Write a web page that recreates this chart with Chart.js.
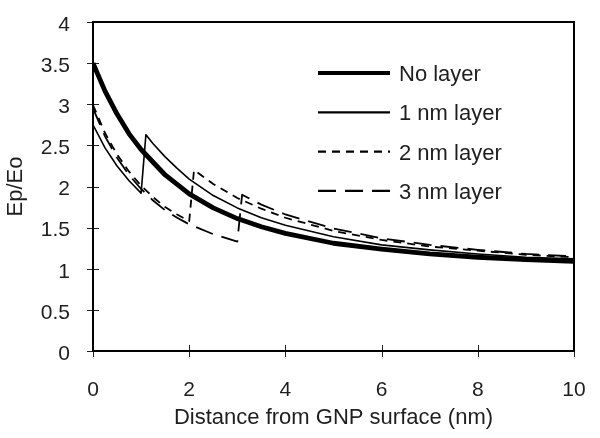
<!DOCTYPE html>
<html>
<head>
<meta charset="utf-8">
<script src="https://cdn.jsdelivr.net/npm/chart.js@4.4.1/dist/chart.umd.min.js"></script>
<style>
    html, body { margin: 0; padding: 0; background: #fff; }
    #wrap { width: 600px; height: 438px; }
</style>
</head>
<body>
<div id="wrap"><canvas id="myChart" width="600" height="438"></canvas></div>
<script>
// values
var seriesNames = ["No layer", "1 nm layer", "2 nm layer", "3 nm layer"];

var noLayerX = [0, 0.25, 0.5, 0.75, 1, 1.5, 2, 2.5, 3, 3.5, 4, 5, 6, 7, 8, 9, 10];
var noLayerY = [3.5, 3.16, 2.88, 2.64, 2.45, 2.14, 1.91, 1.74, 1.61, 1.51, 1.43, 1.31, 1.24, 1.18, 1.14, 1.11, 1.09];

var oneNmX = [0, 0.25, 0.5, 0.75, 1, 1.1, 1.25, 1.5, 1.75, 2, 2.5, 3, 3.5, 4, 5, 6, 7, 8, 9, 10];
var oneNmY = [2.75, 2.47, 2.25, 2.07, 1.92, 2.63, 2.52, 2.36, 2.22, 2.09, 1.89, 1.74, 1.62, 1.53, 1.39, 1.29, 1.23, 1.18, 1.14, 1.12];

var twoNmX = [0, 0.25, 0.5, 0.75, 1, 1.25, 1.5, 1.75, 2, 2.1, 2.5, 3, 3.5, 4, 5, 6, 7, 8, 9, 10];
var twoNmY = [2.99, 2.65, 2.39, 2.18, 2.01, 1.87, 1.75, 1.66, 1.58, 2.2, 2.03, 1.86, 1.73, 1.62, 1.46, 1.35, 1.27, 1.22, 1.17, 1.14];

var threeNmX = [0, 0.25, 0.5, 0.75, 1, 1.25, 1.5, 1.75, 2, 2.5, 3, 3.1, 3.5, 4, 5, 6, 7, 8, 9, 10];
var threeNmY = [2.95, 2.61, 2.35, 2.14, 1.97, 1.83, 1.71, 1.62, 1.54, 1.42, 1.33, 1.9, 1.78, 1.66, 1.49, 1.37, 1.29, 1.23, 1.18, 1.15];

var xTicks = [0, 2, 4, 6, 8, 10];
var yTicks = [0, 0.5, 1, 1.5, 2, 2.5, 3, 3.5, 4];

var textColor = "#1e1e1e";
var fontFamily = "'Liberation Sans', Arial, sans-serif";

function toPoints(xs, ys) {
    return xs.map(function (x, i) {
        return { x: x, y: ys[i] };
    });
}

function lineSet(label, xs, ys, width, dash) {
    return {
        label: label,
        data: toPoints(xs, ys),
        showLine: true,
        borderColor: "#000",
        backgroundColor: "#000",
        borderWidth: width,
        borderDash: dash,
        borderJoinStyle: "round",
        pointRadius: 0,
        tension: 0,
        fill: false,
    };
}

// plot box + excel style cross ticks
var framePlugin = {
    id: "frame",
    beforeDatasetsDraw: function (chart) {
        var ctx = chart.ctx;
        var a = chart.chartArea;
        var xs = chart.scales.x;
        var ys = chart.scales.y;
        ctx.save();
        ctx.strokeStyle = "#222";
        ctx.lineWidth = 1;
        xTicks.forEach(function (v) {
            var px = Math.round(xs.getPixelForValue(v)) + 0.5;
            ctx.beginPath();
            ctx.moveTo(px, a.bottom - 6);
            ctx.lineTo(px, a.bottom + 6);
            ctx.stroke();
        });
        yTicks.forEach(function (v) {
            var py = Math.round(ys.getPixelForValue(v)) + 0.5;
            ctx.beginPath();
            ctx.moveTo(a.left - 6, py);
            ctx.lineTo(a.left + 6, py);
            ctx.stroke();
        });
        ctx.strokeStyle = "#000";
        ctx.lineWidth = 2;
        ctx.strokeRect(a.left, a.top, a.right - a.left, a.bottom - a.top);
        ctx.restore();
    },
};

// legend with line samples, inside the plot
var lineLegend = {
    id: "lineLegend",
    afterDatasetsDraw: function (chart) {
        var ctx = chart.ctx;
        var a = chart.chartArea;
        var x0 = a.left + 225;
        ctx.save();
        ctx.font = "22px " + fontFamily;
        ctx.fillStyle = textColor;
        ctx.textBaseline = "middle";
        chart.data.datasets.forEach(function (ds, i) {
            var y = a.top + 51 + i * 39.3;
            ctx.beginPath();
            ctx.strokeStyle = "#000";
            ctx.lineWidth = i === 0 ? 4 : 2.2;
            ctx.setLineDash(ds.borderDash || []);
            ctx.moveTo(x0, y);
            ctx.lineTo(x0 + 72, y);
            ctx.stroke();
            ctx.setLineDash([]);
            ctx.fillText(ds.label, x0 + 81, y + 2);
        });
        ctx.restore();
    },
};

function drawChart() {
    var ctx = document.getElementById("myChart").getContext("2d");
    var myChart = new Chart(ctx, {
        type: "scatter",
        data: {
            datasets: [
                lineSet(seriesNames[0], noLayerX, noLayerY, 4.8, []),
                lineSet(seriesNames[1], oneNmX, oneNmY, 1.6, []),
                lineSet(seriesNames[2], twoNmX, twoNmY, 1.8, [8, 6]),
                lineSet(seriesNames[3], threeNmX, threeNmY, 1.8, [18, 9]),
            ],
        },
        options: {
            responsive: false,
            animation: false,
            layout: { padding: { top: 22, right: 26, left: 0, bottom: 0 } },
            plugins: {
                legend: { display: false },
                tooltip: { enabled: false },
            },
            scales: {
                x: {
                    type: "linear",
                    min: 0,
                    max: 10,
                    afterBuildTicks: function (s) {
                        s.ticks = xTicks.map(function (v) { return { value: v }; });
                    },
                    grid: { display: false, drawTicks: false },
                    border: { display: false },
                    ticks: {
                        padding: 27,
                        color: textColor,
                        font: { family: fontFamily, size: 21 },
                        callback: function (v) { return String(v); },
                    },
                    title: {
                        display: true,
                        text: "Distance from GNP surface (nm)",
                        color: textColor,
                        font: { family: fontFamily, size: 22 },
                        padding: { top: 0, bottom: 7 },
                    },
                    afterFit: function (s) {
                        s.height = 87;
                        s.paddingLeft = 0;
                        s.paddingRight = 0;
                    },
                },
                y: {
                    type: "linear",
                    min: 0,
                    max: 4,
                    afterBuildTicks: function (s) {
                        s.ticks = yTicks.map(function (v) { return { value: v }; });
                    },
                    grid: { display: false, drawTicks: false },
                    border: { display: false },
                    ticks: {
                        padding: 23,
                        labelOffset: 3,
                        color: textColor,
                        font: { family: fontFamily, size: 21 },
                        callback: function (v) { return String(v); },
                    },
                    title: {
                        display: true,
                        text: "Ep/Eo",
                        color: textColor,
                        font: { family: fontFamily, size: 22 },
                        padding: { top: 3, bottom: 0 },
                    },
                    afterFit: function (s) {
                        s.width = 93;
                        s.paddingTop = 0;
                        s.paddingBottom = 0;
                    },
                },
            },
        },
        plugins: [framePlugin, lineLegend],
    });
}

window.onload = function () {
    drawChart();
};
</script>
</body>
</html>
